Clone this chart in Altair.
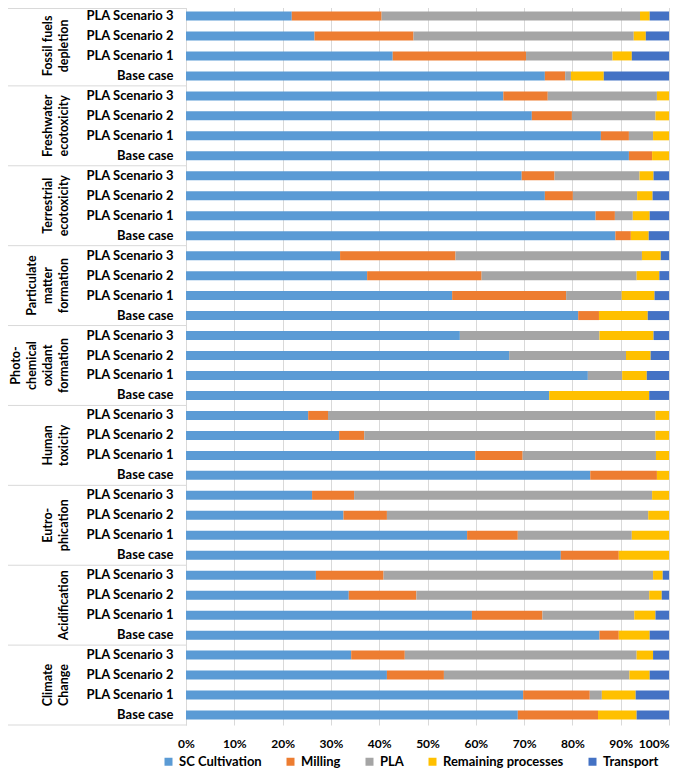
import altair as alt
import pandas as pd

groups = ["Fossil fuels depletion", "Freshwater ecotoxicity", "Terrestrial ecotoxicity",
          "Particulate matter formation", "Photochemical oxidant formation", "Human toxicity",
          "Eutrophication", "Acidification", "Climate Change"]
group_lines = ["Fossil fuels\ndepletion", "Freshwater\necotoxicity", "Terrestrial\necotoxicity",
               "Particulate\nmatter\nformation", "Photo-\nchemical\noxidant\nformation",
               "Human\ntoxicity", "Eutro-\nphication", "Acidification", "Climate\nChange"]
scenarios = ["PLA Scenario 3", "PLA Scenario 2", "PLA Scenario 1", "Base case"]
processes = ["SC Cultivation", "Milling", "PLA", "Remaining processes", "Transport"]
colors = ["#5B9BD5", "#ED7D31", "#A5A5A5", "#FFC000", "#4472C4"]

# values per group: [S3, S2, S1, Base] (percent)
sc_cultivation = [21.9, 26.6, 42.8, 74.3,  65.7, 71.6, 85.9, 91.7,  69.5, 74.3, 84.8, 88.9,
                  31.9, 37.5, 55.1, 81.2,  56.7, 66.9, 83.2, 75.2,  25.3, 31.7, 59.9, 83.7,
                  26.1, 32.6, 58.2, 77.6,  26.9, 33.7, 59.2, 85.6,  34.2, 41.6, 69.8, 68.7]
milling = [18.6, 20.5, 27.6, 4.2,  9.2, 8.3, 5.8, 4.8,  6.8, 5.8, 4.0, 3.2,
           23.9, 23.7, 23.6, 4.3,  0, 0, 0, 0,  4.1, 5.2, 9.8, 13.8,
           8.7, 9.0, 10.5, 12.0,  14.0, 14.0, 14.6, 4.0,  11.1, 11.8, 13.8, 16.6]
pla = [53.5, 45.6, 17.9, 1.2,  22.6, 17.3, 5.0, 0,  17.6, 13.3, 3.7, 0,
       38.6, 32.1, 11.5, 0,  28.9, 24.2, 7.1, 0,  67.8, 60.3, 27.6, 0,
       61.7, 54.1, 23.6, 0,  55.8, 48.2, 19.0, 0,  48.0, 38.4, 2.5, 0]
remaining = [2.0, 2.5, 4.0, 6.8,  2.5, 2.8, 3.3, 3.5,  2.9, 3.2, 3.5, 3.7,
             3.9, 4.7, 6.8, 10.1,  11.2, 5.1, 5.1, 20.7,  2.8, 2.8, 2.7, 2.5,
             3.5, 4.3, 7.7, 10.4,  2.0, 2.6, 4.4, 6.4,  3.4, 4.2, 7.0, 8.0]
transport = [4.0, 4.8, 7.7, 13.5,  0, 0, 0, 0,  3.2, 3.4, 4.0, 4.2,
             1.7, 2.0, 3.0, 4.4,  3.2, 3.8, 4.6, 4.1,  0, 0, 0, 0,
             0, 0, 0, 0,  1.3, 1.5, 2.8, 4.0,  3.3, 4.0, 6.9, 6.7]

series = [sc_cultivation, milling, pla, remaining, transport]

keys = [f"{gi}|{s}" for gi in range(len(groups)) for s in scenarios]

rows = []
for pi, (p, vals) in enumerate(zip(processes, series)):
    for k, v in zip(keys, vals):
        rows.append({"key": k, "process": p, "order": pi, "value": v})
df = pd.DataFrame(rows)

LINE_H = 16
lab_df = pd.DataFrame({"key": [f"{gi}|PLA Scenario 1" for gi in range(len(groups))],
                       "label": group_lines})
lab_df["nlines"] = lab_df["label"].str.count("\n") + 1
# pixel anchor of the first line so that the last line sits next to the scenario labels
lab_df["px"] = -115 - (lab_df["nlines"] - 1) * LINE_H

sep_df = pd.DataFrame({"key": [f"{gi}|Base case" for gi in range(len(groups))]})

FONT = "Lato"
ysc = alt.Scale(domain=keys, paddingInner=0, paddingOuter=0)

bars = alt.Chart(df).mark_bar(size=9).encode(
    x=alt.X("value:Q", stack="normalize",
            scale=alt.Scale(domain=[0, 1]),
            axis=alt.Axis(format="%", values=[i / 10 for i in range(11)], grid=True,
                          gridColor="#D9D9D9", domain=False, ticks=False, title=None,
                          labelFont=FONT, labelFontWeight="bold", labelFontSize=12,
                          labelColor="#000000", labelPadding=13,
                          labelAlign=alt.ExprRef("datum.value >= 1 ? 'right' : 'center'"))),
    y=alt.Y("key:N", scale=ysc, sort=keys,
            axis=alt.Axis(title=None, ticks=False, domainColor="#D9D9D9",
                          labelExpr="split(datum.label, '|')[1]",
                          labelFont=FONT, labelFontWeight="bold", labelFontSize=13,
                          labelColor="#000000", labelPadding=13)),
    color=alt.Color("process:N", scale=alt.Scale(domain=processes, range=colors),
                    legend=alt.Legend(title=None, orient="none", direction="horizontal",
                                      legendX=-24, legendY=749, symbolType="square",
                                      symbolSize=64, symbolStrokeWidth=0,
                                      labelFont=FONT, labelFontWeight="bold",
                                      labelFontSize=13, labelColor="#000000",
                                      columnPadding=22, labelOffset=4)),
    order=alt.Order("order:Q"),
)

labels = alt.Chart(lab_df).mark_text(
    angle=270, align="center", baseline="bottom", lineBreak="\n", dx=10,
    font=FONT, fontWeight="bold", fontSize=12.5, color="#000000", lineHeight=LINE_H,
).encode(
    x=alt.X("px:Q", scale=None),
    y=alt.Y("key:N", scale=ysc, sort=keys),
    text="label:N",
)

seps = alt.Chart(sep_df).mark_rule(color="#D9D9D9", strokeWidth=1).encode(
    x=alt.value(-180), x2=alt.value(0),
    y=alt.Y("key:N", scale=ysc, sort=keys, bandPosition=1),
)
top_sep = alt.Chart(pd.DataFrame({"key": [keys[0]]})).mark_rule(
    color="#D9D9D9", strokeWidth=1).encode(
    x=alt.value(-180), x2=alt.value(0), y=alt.value(2.5),
)

chart = alt.layer(seps, top_sep, bars, labels).properties(
    width=483, height=719,
    autosize=alt.AutoSizeParams(type="none"),
    padding={"left": 178, "top": -2, "right": 6, "bottom": 45},
).configure_view(stroke=None)

chart.save("out.html", embed_options={"renderer": "svg", "actions": False})
